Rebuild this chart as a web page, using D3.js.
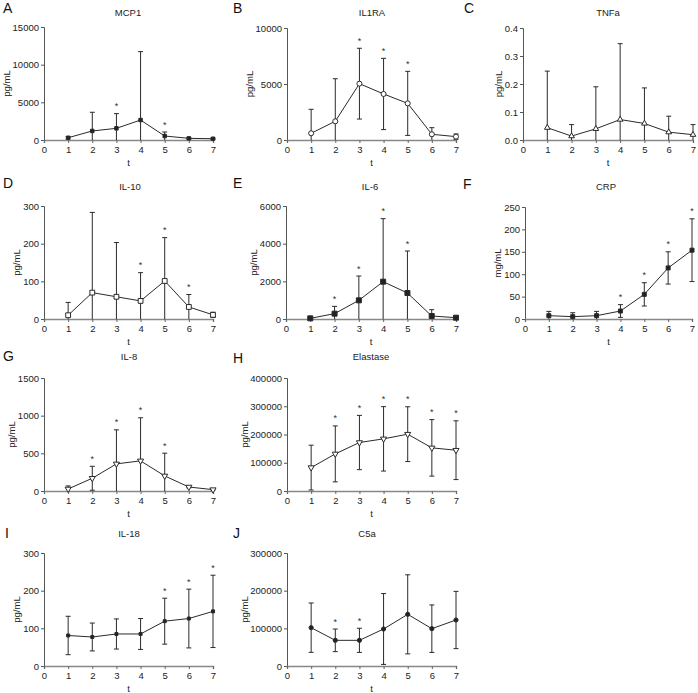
<!DOCTYPE html>
<html><head><meta charset="utf-8">
<script src="https://cdn.jsdelivr.net/npm/d3@7"></script>
<style>
html,body{margin:0;padding:0;background:#fff;}
svg{display:block;font-family:"Liberation Sans",Arial,Helvetica,sans-serif;}
</style></head><body>
<svg id="c" width="698" height="693"></svg>
<script>
// ---------- data ----------
const timePoints = [1, 2, 3, 4, 5, 6, 7];
const xTicks = [0, 1, 2, 3, 4, 5, 6, 7];
const panelLetters = ["A", "B", "C", "D", "E", "F", "G", "H", "I", "J"];
const panelTitles = ["MCP1", "IL1RA", "TNFa", "IL-10", "IL-6", "CRP", "IL-8", "Elastase", "IL-18", "C5a"];
const panelUnits = ["pg/mL", "pg/mL", "pg/mL", "pg/mL", "pg/mL", "mg/mL", "pg/mL", "pg/mL", "pg/mL", "pg/mL"];
const yMaxes = [15000, 10000, 0.4, 300, 6000, 250, 1500, 400000, 300, 300000];
const yTickSteps = [5000, 5000, 0.1, 100, 2000, 50, 500, 100000, 100, 100000];

const mcp1Mean = [300, 1200, 1550, 2650, 530, 220, 170];
const mcp1Sd   = [150, 2480, 1950, 9080, 530, 100, 80];
const mcp1Sig  = [0, 0, 1, 0, 1, 0, 0];

const il1raMean = [600, 1670, 5030, 4110, 3270, 510, 300];
const il1raSd   = [2140, 3800, 3160, 3180, 2860, 590, 240];
const il1raSig  = [0, 0, 1, 1, 1, 0, 0];

const tnfaMean = [0.044, 0.014, 0.040, 0.073, 0.059, 0.028, 0.019];
const tnfaSd   = [0.202, 0.041, 0.150, 0.271, 0.127, 0.057, 0.036];
const tnfaSig  = [0, 0, 0, 0, 0, 0, 0];

const il10Mean = [10, 70, 59, 48, 101, 32, 11];
const il10Sd   = [34, 213, 144, 75, 115, 33, 7];
const il10Sig  = [0, 0, 0, 1, 1, 1, 0];

const il6Mean = [35, 283, 991, 1982, 1380, 160, 70];
const il6Sd   = [20, 389, 1292, 3345, 2230, 335, 36];
const il6Sig  = [0, 1, 1, 1, 1, 0, 0];

const crpMean = [7.4, 5.2, 7.4, 17.8, 55, 114, 153.6];
const crpSd   = [9.6, 8.8, 9.6, 14.2, 26, 36, 70];
const crpSig  = [0, 0, 0, 1, 1, 1, 1];

const il8Mean = [27, 169, 360, 400, 200, 53, 18];
const il8Sd   = [40, 159, 452, 572, 302, 10, 5];
const il8Sig  = [0, 1, 1, 1, 1, 0, 0];

const elastaseMean = [82840, 131360, 171600, 184600, 201180, 152660, 144380];
const elastaseSd   = [79290, 99000, 96000, 114000, 97000, 100000, 104000];
const elastaseSig  = [0, 1, 1, 1, 1, 1, 1];

const il18Mean = [81, 77, 85, 85, 119, 126, 145];
const il18Sd   = [51, 37, 40, 41, 61, 78, 96];
const il18Sig  = [0, 0, 0, 0, 1, 1, 1];

const c5aMean = [101770, 68140, 68140, 98230, 137170, 99120, 122120];
const c5aSd   = [65500, 30000, 32000, 94000, 105000, 63000, 76000];
const c5aSig  = [0, 1, 1, 0, 0, 0, 0];

const means = [mcp1Mean, il1raMean, tnfaMean, il10Mean, il6Mean, crpMean, il8Mean, elastaseMean, il18Mean, c5aMean];
const sds = [mcp1Sd, il1raSd, tnfaSd, il10Sd, il6Sd, crpSd, il8Sd, elastaseSd, il18Sd, c5aSd];
const sigs = [mcp1Sig, il1raSig, tnfaSig, il10Sig, il6Sig, crpSig, il8Sig, elastaseSig, il18Sig, c5aSig];

// ---------- layout / style ----------
const layout = [
  {x0: 44,  x1: 213, yt: 27,  yb: 140, lx: 3,   ly: 13,  tx: 128, ty: 16},
  {x0: 287, x1: 456, yt: 28,  yb: 140, lx: 233, ly: 13,  tx: 372, ty: 16},
  {x0: 523, x1: 693, yt: 28,  yb: 140, lx: 464, ly: 13,  tx: 608, ty: 16},
  {x0: 44,  x1: 213, yt: 206, yb: 319, lx: 3,   ly: 188, tx: 130, ty: 190},
  {x0: 286, x1: 456, yt: 206, yb: 319, lx: 233, ly: 188, tx: 370, ty: 190},
  {x0: 525, x1: 692, yt: 207, yb: 319, lx: 463, ly: 189, tx: 606, ty: 190},
  {x0: 44,  x1: 213, yt: 378, yb: 491, lx: 3,   ly: 361, tx: 129, ty: 360},
  {x0: 287, x1: 456, yt: 378, yb: 491, lx: 233, ly: 363, tx: 371, ty: 360},
  {x0: 44,  x1: 213, yt: 553, yb: 666, lx: 5,   ly: 538, tx: 129, ty: 537},
  {x0: 287, x1: 456, yt: 553, yb: 666, lx: 233, ly: 538, tx: 367, ty: 537}
];
const markers = [
  {type: d3.symbolSquare, size: 12, fill: "#222", rot: 0},
  {type: d3.symbolCircle, size: 20, fill: "#fff", rot: 0},
  {type: d3.symbolTriangle, size: 14, fill: "#fff", rot: 0},
  {type: d3.symbolSquare, size: 23, fill: "#fff", rot: 0},
  {type: d3.symbolSquare, size: 25, fill: "#222", rot: 0},
  {type: d3.symbolSquare, size: 16, fill: "#222", rot: 0},
  {type: d3.symbolTriangle, size: 16, fill: "#fff", rot: 180},
  {type: d3.symbolTriangle, size: 16, fill: "#fff", rot: 180},
  {type: d3.symbolSquare, size: 9, fill: "#222", rot: 0},
  {type: d3.symbolCircle, size: 14, fill: "#222", rot: 0}
];

const svg = d3.select("#c");
svg.append("rect").attr("width", 698).attr("height", 693).attr("fill", "#fff");

const ink = "#2a2a2a";

panelTitles.forEach((title, i) => {
  const L = layout[i];
  const g = svg.append("g");
  const x = d3.scaleLinear().domain([0, 7]).range([L.x0, L.x1]);
  const y = d3.scaleLinear().domain([0, yMaxes[i]]).range([L.yb, L.yt]);
  const yTicks = d3.range(0, yMaxes[i] + yTickSteps[i] / 2, yTickSteps[i]);
  const fmt = yMaxes[i] < 1 ? d3.format(".1f") : d3.format("d");

  g.append("text").attr("x", L.lx).attr("y", L.ly).attr("font-size", 14)
    .attr("fill", "#111").text(panelLetters[i]);
  g.append("text").attr("x", L.tx).attr("y", L.ty).attr("text-anchor", "middle")
    .attr("font-size", 9.5).attr("fill", "#222").text(title);

  const ya = g.append("g").attr("transform", `translate(${L.x0},0)`)
    .call(d3.axisLeft(y).tickValues(yTicks).tickFormat(fmt).tickSizeOuter(0).tickSize(3).tickPadding(2));
  ya.select(".domain").attr("stroke", "#555");
  ya.selectAll(".tick line").attr("stroke", "#555");
  ya.selectAll("text").attr("font-size", 9.5).attr("fill", "#222").attr("font-family", null);

  const xa = g.append("g").attr("transform", `translate(0,${L.yb})`)
    .call(d3.axisBottom(x).tickValues(xTicks).tickFormat(d3.format("d")).tickSizeOuter(0).tickSize(3).tickPadding(3));
  xa.select(".domain").attr("stroke", "#888").attr("stroke-width", 1.4);
  xa.selectAll(".tick line").attr("stroke", "#666");
  xa.selectAll("text").attr("font-size", 9.5).attr("fill", "#222").attr("font-family", null);

  g.append("text").attr("x", (L.x0 + L.x1) / 2).attr("y", L.yb + 26).attr("text-anchor", "middle")
    .attr("font-size", 9.5).attr("fill", "#222").text("t");
  let maxW = 0;
  ya.selectAll("text").each(function () { maxW = Math.max(maxW, this.getComputedTextLength()); });
  const cx = L.x0 - maxW - 11;
  const cy = (L.yt + L.yb) / 2;
  g.append("text").attr("transform", `translate(${cx},${cy}) rotate(-90)`)
    .attr("text-anchor", "middle").attr("dy", "0.35em")
    .attr("font-size", 9.5).attr("fill", "#222").text(panelUnits[i]);

  const data = timePoints.map((t, k) => ({t, m: means[i][k], s: sds[i][k], sig: sigs[i][k]}));

  const eb = g.append("g").attr("stroke", ink).attr("stroke-width", 1);
  data.forEach(d => {
    const hi = d.m + d.s, lo = Math.max(0, d.m - d.s);
    eb.append("line").attr("x1", x(d.t)).attr("x2", x(d.t)).attr("y1", y(hi)).attr("y2", y(lo));
    eb.append("line").attr("x1", x(d.t) - 2.5).attr("x2", x(d.t) + 2.5).attr("y1", y(hi)).attr("y2", y(hi));
    if (d.m - d.s > 0) {
      eb.append("line").attr("x1", x(d.t) - 2.5).attr("x2", x(d.t) + 2.5).attr("y1", y(lo)).attr("y2", y(lo));
    }
  });

  g.append("path").datum(data)
    .attr("d", d3.line().x(d => x(d.t)).y(d => y(d.m)))
    .attr("fill", "none").attr("stroke", ink).attr("stroke-width", 1);

  const mk = markers[i];
  g.selectAll(".mk").data(data).enter().append("path")
    .attr("d", d3.symbol().type(mk.type).size(mk.size))
    .attr("transform", d => `translate(${x(d.t)},${y(d.m)}) rotate(${mk.rot})`)
    .attr("fill", mk.fill).attr("stroke", ink).attr("stroke-width", 1);

  g.selectAll(".st").data(data.filter(d => d.sig)).enter().append("text")
    .attr("x", d => x(d.t)).attr("y", d => y(d.m + d.s) - 4.5)
    .attr("text-anchor", "middle").attr("font-size", 9).attr("fill", "#333").text("*");
});
</script>
</body></html>
